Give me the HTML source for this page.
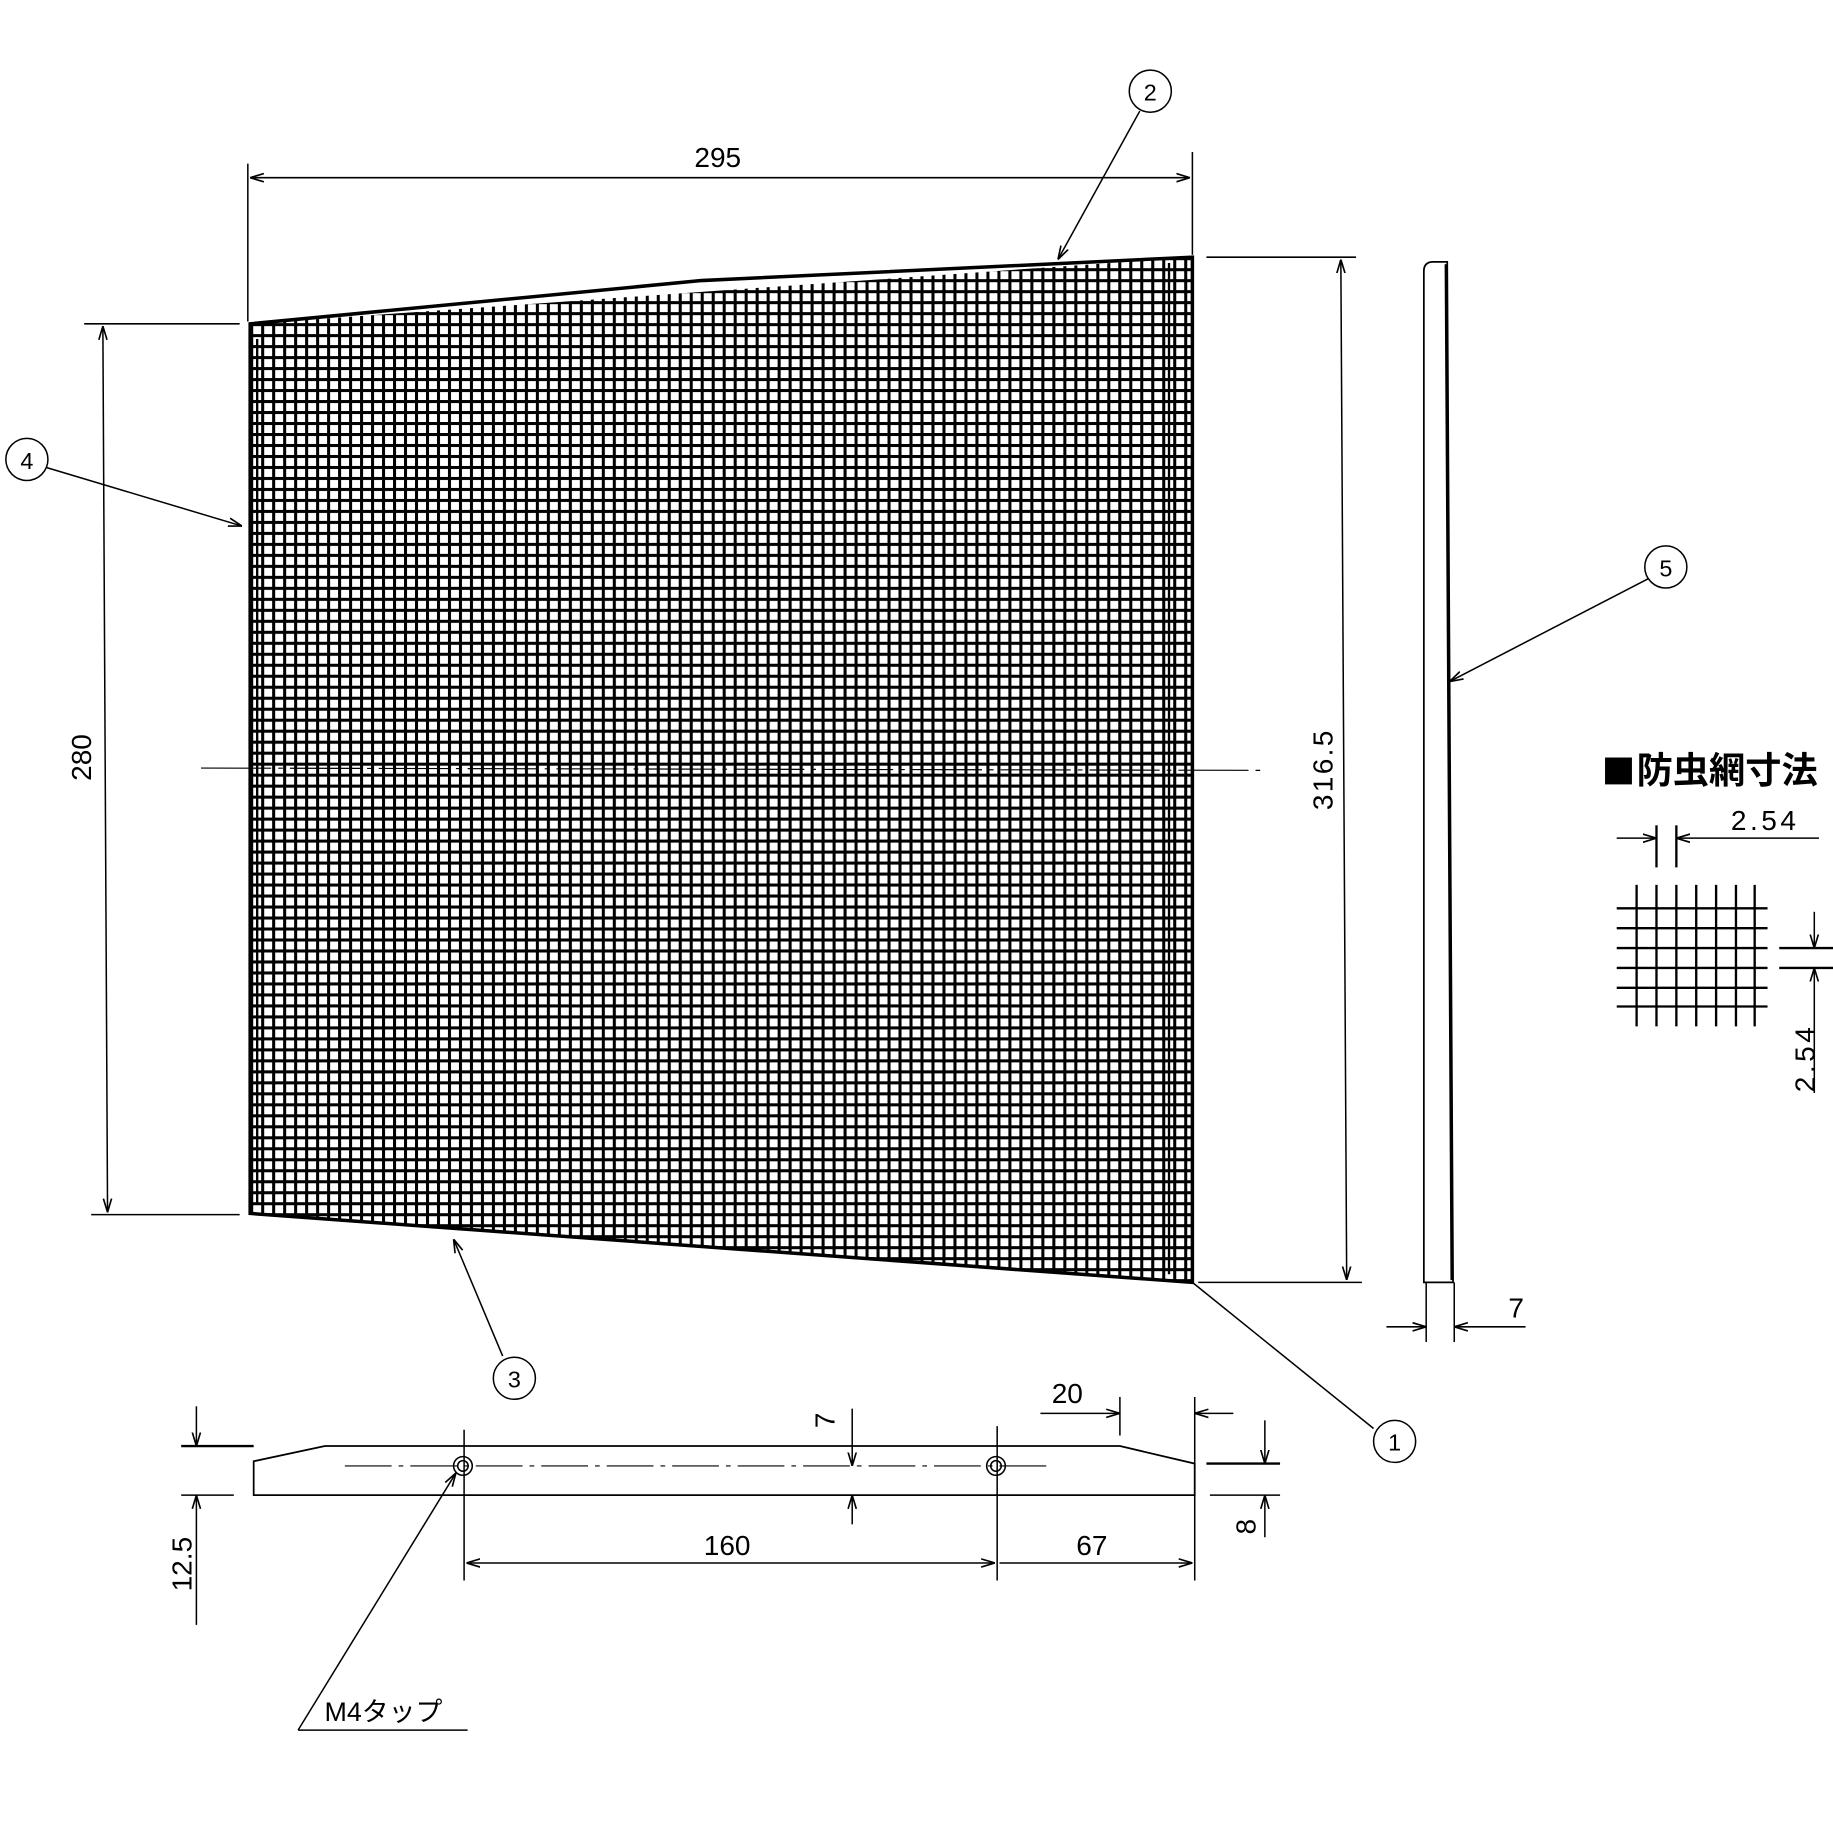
<!DOCTYPE html>
<html><head><meta charset="utf-8"><style>html,body{margin:0;padding:0;background:#fff}svg{display:block}</style></head>
<body>
<svg width="1833" height="1833" viewBox="0 0 1568 1568" xmlns="http://www.w3.org/2000/svg" font-family="'Liberation Sans Narrow','Liberation Sans',sans-serif">
<defs>
<pattern id="g" x="214" y="220" width="9.4" height="9.4" patternUnits="userSpaceOnUse">
<rect x="0" y="0" width="2.6" height="9.4" fill="#000"/><rect x="0" y="0" width="9.4" height="2.6" fill="#000"/>
</pattern>
<clipPath id="c"><polygon points="214,277 1020,220 1020,1097 214,1038"/></clipPath>
<marker id="a" viewBox="0 0 10 10" refX="10" refY="5" markerWidth="9" markerHeight="9" orient="auto-start-reverse"><path d="M0,2 L10,5 L0,8" fill="none" stroke="#000" stroke-width="1.2"/></marker>
</defs>
<g stroke="#000" fill="none" stroke-width="1.3">
<rect x="200" y="200" width="840" height="920" fill="url(#g)" clip-path="url(#c)" stroke="none"/>
<polygon points="214,277 600,240 1020,220 1020,1097 214,1038" stroke-width="3"/>
<line x1="1000" y1="225" x2="1000" y2="1090" stroke-width="2"/>
<line x1="220" y1="290" x2="220" y2="1030" stroke-width="2"/>
<line x1="212" y1="140" x2="212" y2="275"/><line x1="1020" y1="130" x2="1020" y2="218"/>
<line x1="214" y1="152" x2="1018" y2="152" marker-start="url(#a)" marker-end="url(#a)"/>
<line x1="72" y1="277" x2="205" y2="277"/><line x1="78" y1="1039" x2="205" y2="1039"/>
<line x1="88" y1="279" x2="92" y2="1037" marker-start="url(#a)" marker-end="url(#a)"/>
<line x1="1032" y1="220" x2="1160" y2="220"/><line x1="1025" y1="1097" x2="1165" y2="1097"/>
<line x1="1147" y1="222" x2="1152" y2="1095" marker-start="url(#a)" marker-end="url(#a)"/>
<line x1="172" y1="657" x2="1080" y2="659" stroke-dasharray="60,6,4,6" stroke-width="1"/>
<line x1="975" y1="95" x2="905" y2="222" marker-end="url(#a)"/>
<line x1="40" y1="400" x2="207" y2="450" marker-end="url(#a)"/>
<line x1="430" y1="1160" x2="388" y2="1060" marker-end="url(#a)"/>
<line x1="1175" y1="1222" x2="1020" y2="1097"/>
<line x1="1410" y1="495" x2="1240" y2="583" marker-end="url(#a)"/>
<circle cx="984" cy="78" r="18"/><circle cx="23" cy="393" r="18"/><circle cx="440" cy="1179" r="18"/>
<circle cx="1193" cy="1233" r="18"/><circle cx="1425" cy="485" r="18"/>
<path d="M1218,1097 L1218,232 Q1218,224 1226,224 L1238,224 L1243,1097 Z" stroke-width="1.5"/>
<line x1="1237" y1="226" x2="1242" y2="1095" stroke-width="2.5"/>
<line x1="1220" y1="1097" x2="1220" y2="1148"/><line x1="1244" y1="1097" x2="1244" y2="1148"/>
<line x1="1186" y1="1135" x2="1220" y2="1135" marker-end="url(#a)"/><line x1="1305" y1="1135" x2="1244" y2="1135" marker-end="url(#a)"/>
<path d="M217,1279 L217,1250 L278,1237 L958,1237 L1022,1252 L1022,1279 Z" stroke-width="1.5"/>
<line x1="155" y1="1237" x2="217" y2="1237" stroke-width="2"/>
<line x1="155" y1="1279" x2="200" y2="1279"/>
<line x1="168" y1="1203" x2="168" y2="1237" marker-end="url(#a)"/>
<line x1="168" y1="1390" x2="168" y2="1279" marker-end="url(#a)"/>
<line x1="295" y1="1254" x2="900" y2="1254" stroke-dasharray="40,6,4,6" stroke-width="1"/>
<circle cx="396" cy="1254" r="8"/><circle cx="396" cy="1254" r="4.5"/>
<circle cx="852" cy="1254" r="8"/><circle cx="852" cy="1254" r="4.5"/>
<line x1="397" y1="1223" x2="397" y2="1352"/><line x1="853" y1="1220" x2="853" y2="1352"/>
<line x1="1022" y1="1195" x2="1022" y2="1352"/>
<line x1="399" y1="1337" x2="851" y2="1337" marker-start="url(#a)" marker-end="url(#a)"/>
<line x1="855" y1="1337" x2="1020" y2="1337" marker-end="url(#a)"/>
<line x1="729" y1="1205" x2="729" y2="1254" marker-end="url(#a)"/><line x1="729" y1="1304" x2="729" y2="1279" marker-end="url(#a)"/>
<line x1="958" y1="1195" x2="958" y2="1228"/>
<line x1="890" y1="1209" x2="958" y2="1209" marker-end="url(#a)"/><line x1="1055" y1="1209" x2="1022" y2="1209" marker-end="url(#a)"/>
<line x1="1032" y1="1252" x2="1095" y2="1252" stroke-width="2"/><line x1="1035" y1="1279" x2="1095" y2="1279"/>
<line x1="1082" y1="1215" x2="1082" y2="1252" marker-end="url(#a)"/><line x1="1082" y1="1315" x2="1082" y2="1279" marker-end="url(#a)"/>
<line x1="255" y1="1480" x2="390" y2="1260" marker-end="url(#a)"/><line x1="255" y1="1480" x2="400" y2="1480"/>
<g stroke-width="2">
<line x1="1400" y1="757" x2="1400" y2="878"/><line x1="1417" y1="757" x2="1417" y2="878"/><line x1="1434" y1="757" x2="1434" y2="878"/>
<line x1="1451" y1="757" x2="1451" y2="878"/><line x1="1468" y1="757" x2="1468" y2="878"/><line x1="1485" y1="757" x2="1485" y2="878"/><line x1="1501" y1="757" x2="1501" y2="878"/>
<line x1="1383" y1="777" x2="1512" y2="777"/><line x1="1383" y1="794" x2="1512" y2="794"/><line x1="1383" y1="811" x2="1512" y2="811"/>
<line x1="1383" y1="828" x2="1512" y2="828"/><line x1="1383" y1="845" x2="1512" y2="845"/><line x1="1383" y1="861" x2="1512" y2="861"/>
<line x1="1417" y1="706" x2="1417" y2="742"/><line x1="1434" y1="706" x2="1434" y2="742"/>
<line x1="1522" y1="811" x2="1568" y2="811"/><line x1="1522" y1="828" x2="1568" y2="828"/>
</g>
<line x1="1383" y1="717" x2="1417" y2="717" marker-end="url(#a)"/><line x1="1556" y1="717" x2="1434" y2="717" marker-end="url(#a)"/>
<line x1="1552" y1="780" x2="1552" y2="811" marker-end="url(#a)"/><line x1="1552" y1="935" x2="1552" y2="828" marker-end="url(#a)"/>
</g>
<rect x="1373" y="648" width="23" height="23" fill="#000"/>
<g font-size="24" fill="#000" text-anchor="middle">
<text x="614" y="143">295</text>
<text transform="translate(78,648) rotate(-90)">280</text>
<text transform="translate(1140,658) rotate(-90)" letter-spacing="2">316.5</text>
<text x="984" y="86" font-size="20">2</text><text x="23" y="401" font-size="20">4</text>
<text x="440" y="1187" font-size="20">3</text><text x="1193" y="1241" font-size="20">1</text><text x="1425" y="493" font-size="20">5</text>
<text x="1297" y="1127">7</text>
<text x="913" y="1200">20</text>
<text transform="translate(714,1215) rotate(-90)">7</text>
<text x="622" y="1330">160</text><text x="934" y="1330">67</text>
<text transform="translate(1074,1306) rotate(-90)">8</text>
<text transform="translate(164,1338) rotate(-90)">12.5</text>
<text x="1510" y="710" letter-spacing="3" font-family="'Liberation Sans',sans-serif">2.54</text>
<text transform="translate(1552,905) rotate(-90)" letter-spacing="3" font-family="'Liberation Sans',sans-serif">2.54</text>
<text x="328" y="1472" font-family="'Liberation Sans','Noto Sans CJK JP',sans-serif" font-size="23">M4タップ</text>
<text x="1400" y="670" text-anchor="start" font-family="'Liberation Sans','Noto Sans CJK JP',sans-serif" font-size="31" font-weight="bold">防虫網寸法</text>
</g>
</svg>
</body></html>
